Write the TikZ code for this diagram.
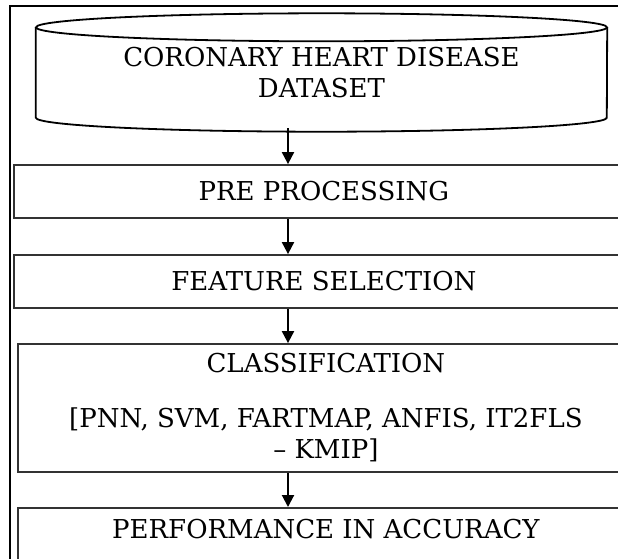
\documentclass[tikz,border=0pt]{standalone}
\usepackage{fontspec}
\setmainfont{DejaVu Serif}
\usetikzlibrary{arrows.meta}

\begin{document}
\begin{tikzpicture}[x=1pt,y=-1pt,
  boxtext/.style={font=\fontsize{26}{31}\selectfont,align=center,inner sep=0pt},
  stagebox/.style={boxtext,draw=black!80,line width=1.8pt,minimum width=620pt,anchor=west},
  flow/.style={line width=2pt,-{Triangle[width=12pt,length=12pt]}},
  framing/.style={line width=2pt}]

\useasboundingbox (0,0) rectangle (618,558) ;
\clip (0,0) rectangle (618,558) ;

%outer frame
\draw [framing] (10,570) -- (10,6) -- (630,6) ;

%dataset cylinder
\node [boxtext,minimum width=571pt,minimum height=90pt] (data) at (321.5,72.5) {CORONARY HEART DISEASE\\DATASET} ;
\draw [line width=1.8pt,yshift=3.5pt] (data.north west) -- (data.south west) arc [start angle=180,end angle=360,x radius=285.5pt,y radius=14pt] -- (data.north east) ;
\draw [line width=1.8pt,yshift=3.5pt] (data.north) ellipse [x radius=285.5pt,y radius=14pt] ;
\coordinate (databot) at ([yshift=-10.5pt]data.south) ;

%stages
\node [stagebox,minimum height=53pt] (pre) at (13,191.5) {PRE PROCESSING} ;
\node [stagebox,minimum height=53pt] (feat) at (13,281.5) {FEATURE SELECTION} ;
\node [stagebox,minimum width=616pt,minimum height=128pt] (class) at (17,408) {CLASSIFICATION\\[24pt][PNN, SVM, FARTMAP, ANFIS, IT2FLS\\-- KMIP]} ;
\node [stagebox,minimum width=616pt,anchor=north west,text height=30.5pt,text depth=40pt] (perf) at (17,507) {PERFORMANCE IN ACCURACY} ;

%arrows
\coordinate (axis) at (288,0) ;
\draw [flow] (databot -| axis) -- (pre.north -| axis) ;
\draw [flow] (pre.south -| axis) -- (feat.north -| axis) ;
\draw [flow] (feat.south -| axis) -- (class.north -| axis) ;
\draw [flow] (class.south -| axis) -- (perf.north -| axis) ;

\end{tikzpicture}
\end{document}
